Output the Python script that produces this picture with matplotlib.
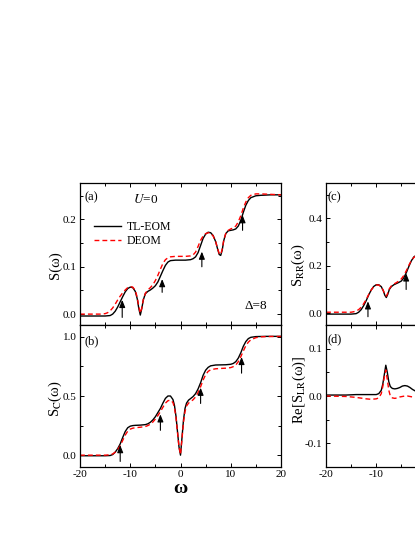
import matplotlib
matplotlib.use("Agg")
import matplotlib.pyplot as plt
from matplotlib.ticker import MultipleLocator, FormatStrFormatter

plt.rcParams['font.family'] = ['Liberation Serif', 'DejaVu Serif']
plt.rcParams['mathtext.fontset'] = 'stix'
plt.rcParams['axes.unicode_minus'] = False

# ---------------- data ----------------
# panel (a): S(omega)
a_w_tl = [-20, -15, -14, -13.5, -13, -12.5, -12, -11.5, -11, -10.5, -10, -9.5, -9, -8.6, -8.3, -8.0,
          -7.7, -7.4, -7.0, -6.5, -6.0, -5.5, -5.0, -4.5, -4.0, -3.5, -3.0, -2.5, -2.0, -1, 0, 1, 2,
          2.5, 3.0, 3.5, 4.0, 4.5, 5.0, 5.5, 6.0, 6.5, 7.0, 7.4, 7.7, 8.0, 8.3, 8.6, 9.0, 9.5, 10,
          10.5, 11, 11.5, 12, 12.5, 13, 13.5, 14, 15, 16, 18, 20]
a_s_tl = [-0.004, -0.004, -0.003, 0.000, 0.006, 0.015, 0.026, 0.037, 0.047, 0.054, 0.057, 0.056, 0.048,
          0.032, 0.012, -0.002, 0.012, 0.030, 0.043, 0.048, 0.051, 0.055, 0.060, 0.068, 0.080, 0.092,
          0.103, 0.110, 0.113, 0.114, 0.114, 0.114, 0.115, 0.117, 0.121, 0.130, 0.145, 0.160, 0.169,
          0.173, 0.172, 0.166, 0.153, 0.137, 0.126, 0.124, 0.135, 0.155, 0.170, 0.176, 0.177, 0.178,
          0.180, 0.186, 0.198, 0.215, 0.230, 0.240, 0.246, 0.250, 0.251, 0.252, 0.252]
a_w_de = [-20, -16, -15, -14.5, -14, -13.5, -13, -12.5, -12, -11.5, -11, -10.5, -10, -9.5, -9, -8.6,
          -8.3, -8.0, -7.7, -7.4, -7.0, -6.5, -6.0, -5.5, -5.0, -4.5, -4.0, -3.5, -3.0, -2.5, -2.0, -1,
          0, 1, 2, 2.5, 3.0, 3.5, 4.0, 4.5, 5.0, 5.5, 6.0, 6.5, 7.0, 7.4, 7.7, 8.0, 8.3, 8.6, 9.0, 9.5,
          10, 10.5, 11, 11.5, 12, 12.5, 13, 13.5, 14, 15, 16, 18, 20]
a_s_de = [0.000, 0.000, 0.001, 0.003, 0.007, 0.013, 0.021, 0.030, 0.038, 0.045, 0.051, 0.056, 0.058,
          0.057, 0.050, 0.035, 0.016, 0.002, 0.013, 0.031, 0.044, 0.051, 0.056, 0.062, 0.071, 0.082,
          0.095, 0.107, 0.115, 0.119, 0.121, 0.122, 0.122, 0.122, 0.123, 0.125, 0.131, 0.143, 0.156,
          0.165, 0.170, 0.172, 0.171, 0.165, 0.153, 0.138, 0.128, 0.126, 0.137, 0.156, 0.170, 0.177,
          0.180, 0.182, 0.186, 0.195, 0.208, 0.224, 0.237, 0.246, 0.251, 0.254, 0.254, 0.253, 0.252]

# panel (b): S_C(omega)
b_w_tl = [-20, -15, -14, -13.5, -13, -12.5, -12, -11.5, -11, -10.5, -10, -9.5, -9, -8, -7, -6.5, -6,
          -5.5, -5, -4.5, -4, -3.5, -3, -2.5, -2.0, -1.5, -1.2, -0.9, -0.6, -0.3, 0, 0.3, 0.6, 0.9,
          1.2, 1.6, 2.0, 2.5, 3.0, 3.5, 4.0, 4.5, 5.0, 5.5, 6.0, 7, 8, 9, 10, 10.5, 11, 11.5, 12,
          12.5, 13, 13.5, 14, 15, 17, 20]
b_s_tl = [-0.005, -0.005, -0.003, 0.005, 0.025, 0.055, 0.095, 0.150, 0.200, 0.232, 0.245, 0.250, 0.252,
          0.254, 0.258, 0.265, 0.278, 0.298, 0.325, 0.360, 0.395, 0.440, 0.480, 0.500, 0.500, 0.470,
          0.420, 0.330, 0.200, 0.070, 0.000, 0.150, 0.300, 0.395, 0.440, 0.465, 0.478, 0.495, 0.520,
          0.560, 0.612, 0.675, 0.718, 0.742, 0.755, 0.762, 0.763, 0.764, 0.768, 0.775, 0.790, 0.820,
          0.865, 0.920, 0.960, 0.985, 0.996, 1.002, 1.004, 1.004]
b_w_de = [-20, -15, -14, -13.5, -13, -12.5, -12, -11.5, -11, -10.5, -10, -9.5, -9, -8, -7, -6.5, -6,
          -5.5, -5, -4.5, -4, -3.5, -3, -2.5, -2.0, -1.5, -1.2, -0.9, -0.6, -0.3, 0, 0.3, 0.6, 0.9,
          1.2, 1.6, 2.0, 2.5, 3.0, 3.5, 4.0, 4.5, 5.0, 5.5, 6.0, 7, 8, 9, 10, 10.5, 11, 11.5, 12,
          12.5, 13, 13.5, 14, 15, 16, 18, 20]
b_s_de = [0.000, 0.000, 0.003, 0.010, 0.025, 0.048, 0.080, 0.125, 0.170, 0.203, 0.220, 0.228, 0.232,
          0.236, 0.242, 0.250, 0.262, 0.280, 0.305, 0.335, 0.368, 0.405, 0.440, 0.460, 0.465, 0.445,
          0.400, 0.320, 0.195, 0.070, 0.005, 0.140, 0.280, 0.370, 0.415, 0.440, 0.452, 0.468, 0.492,
          0.530, 0.578, 0.635, 0.680, 0.708, 0.722, 0.730, 0.733, 0.735, 0.740, 0.748, 0.762, 0.790,
          0.832, 0.880, 0.925, 0.955, 0.975, 0.993, 1.000, 1.003, 1.003]

# panel (c): S_RR(omega)
c_w = [-20, -15, -14.5, -14, -13.5, -13, -12.5, -12, -11.5, -11, -10.5, -10, -9.5, -9.0, -8.6, -8.3,
       -8.0, -7.7, -7.4, -7.0, -6.5, -6.0, -5.5, -5.0, -4.5, -4.0, -3.5, -3.0, -2.5, -2.0, -1.5]
c_s_tl = [-0.004, -0.004, -0.003, -0.002, 0.004, 0.015, 0.032, 0.053, 0.077, 0.098, 0.113, 0.120, 0.120,
          0.112, 0.095, 0.076, 0.066, 0.080, 0.100, 0.112, 0.120, 0.125, 0.130, 0.136, 0.150, 0.172,
          0.198, 0.222, 0.238, 0.245, 0.248]
c_s_de = [0.004, 0.004, 0.006, 0.009, 0.015, 0.025, 0.040, 0.058, 0.079, 0.098, 0.112, 0.119, 0.119,
          0.111, 0.096, 0.080, 0.072, 0.085, 0.103, 0.115, 0.123, 0.129, 0.136, 0.145, 0.160, 0.180,
          0.203, 0.223, 0.236, 0.243, 0.246]

# panel (d): Re[S_LR(omega)]
d_w = [-20, -16, -14, -12, -11, -10, -9.5, -9.0, -8.7, -8.4, -8.1, -7.8, -7.5, -7.2, -6.8, -6.3, -5.8,
       -5.3, -4.8, -4.3, -3.8, -3.3, -2.8, -2.3, -1.5]
d_s_tl = [0.002, 0.002, 0.003, 0.003, 0.003, 0.003, 0.005, 0.012, 0.025, 0.045, 0.065, 0.050, 0.030,
          0.020, 0.016, 0.015, 0.016, 0.018, 0.021, 0.022, 0.021, 0.018, 0.014, 0.011, 0.008]
d_s_de = [0.000, -0.001, -0.003, -0.006, -0.007, -0.006, -0.004, 0.005, 0.020, 0.040, 0.055, 0.035,
          0.012, 0.000, -0.004, -0.005, -0.004, -0.002, -0.001, 0.000, 0.000, -0.001, -0.002, -0.003,
          -0.004]

# x tick labels
x_ticks = [-20, -10, 0, 10, 20]
x_labels_left = ['-20', '-10', '0', '10', '20']
x_labels_right = ['-20', '-10', '', '', '']   # right column is cropped by the picture edge

# arrows (omega position, tail, head)
a_arrow_w = [-11.6, -3.65, 4.25, 12.35]
a_arrow_tail = [-0.007, 0.046, 0.100, 0.177]
a_arrow_head = [0.030, 0.074, 0.132, 0.209]
b_arrow_w = [-12.0, -4.0, 4.0, 12.15]
b_arrow_tail = [-0.053, 0.21, 0.437, 0.693]
b_arrow_head = [0.085, 0.345, 0.57, 0.83]
c_arrow_w = [-11.65, -4.05]
c_arrow_tail = [-0.015, 0.100]
c_arrow_head = [0.050, 0.168]

# ---------------- figure ----------------
fig = plt.figure(figsize=(4.15, 5.37), dpi=100)
W, H = 415.0, 537.0
aw, ah = 201 / W, 142 / H
ax_a = fig.add_axes([80 / W, (H - 325) / H, aw, ah])
ax_b = fig.add_axes([80 / W, (H - 467) / H, aw, ah])
ax_c = fig.add_axes([326 / W, (H - 325) / H, aw, ah])
ax_d = fig.add_axes([326 / W, (H - 467) / H, aw, ah])

lw_tl = 1.0
lw_de = 1.0
dash = (0, (3.5, 2.2))


def style(ax, yticks, ymaj, ylim, xlabels):
    ax.set_xlim(-20, 20)
    ax.set_ylim(*ylim)
    ax.set_xticks(x_ticks)
    if xlabels is None:
        ax.tick_params(labelbottom=False)
    else:
        ax.set_xticklabels(xlabels)
    ax.xaxis.set_minor_locator(MultipleLocator(5))
    ax.set_yticks(yticks)
    ax.yaxis.set_minor_locator(MultipleLocator(ymaj / 2))
    ax.yaxis.set_major_formatter(FormatStrFormatter('%.1f'))
    ax.tick_params(which='both', direction='in', top=True, right=True, labelsize=8, pad=2.5,
                   width=0.7)
    ax.tick_params(which='major', length=2.8)
    ax.tick_params(which='minor', length=2.0)
    for s in ax.spines.values():
        s.set_linewidth(0.9)


def arrows(ax, ws, tails, heads):
    for w, t, h in zip(ws, tails, heads):
        ax.annotate('', xy=(w, h), xytext=(w, t),
                    arrowprops=dict(arrowstyle='-|>,head_length=0.55,head_width=0.22',
                                    color='k', lw=0.8, shrinkA=0, shrinkB=0, mutation_scale=8))


# (a)
ax_a.plot(a_w_tl, a_s_tl, color='black', lw=lw_tl, label='TL-EOM')
ax_a.plot(a_w_de, a_s_de, color='red', lw=lw_de, ls=dash, label='DEOM')
style(ax_a, [0.0, 0.1, 0.2], 0.1, (-0.023, 0.277), None)
arrows(ax_a, a_arrow_w, a_arrow_tail, a_arrow_head)
ax_a.legend(loc='upper left', bbox_to_anchor=(0.07, 0.729), frameon=False, fontsize=8.5,
            borderpad=0, borderaxespad=0, handlelength=2.26, handletextpad=0.5,
            labelspacing=0.15)
ax_a.text(0.02, 0.878, '(a)', transform=ax_a.transAxes, fontsize=9, va='baseline', ha='left')
ax_a.text(0.262, 0.859, '$U$=0', transform=ax_a.transAxes, fontsize=9.5, va='baseline', ha='left')
ax_a.text(0.819, 0.111, 'Δ=8', transform=ax_a.transAxes, fontsize=9.5, va='baseline', ha='left')
ax_a.text(-0.124, 0.419, 'S(ω)', transform=ax_a.transAxes, fontsize=10.5, rotation=90,
          ha='center', va='center')

# (b)
ax_b.plot(b_w_tl, b_s_tl, color='black', lw=lw_tl)
ax_b.plot(b_w_de, b_s_de, color='red', lw=lw_de, ls=dash)
style(ax_b, [0.0, 0.5, 1.0], 0.5, (-0.1, 1.1), x_labels_left)
arrows(ax_b, b_arrow_w, b_arrow_tail, b_arrow_head)
ax_b.text(0.02, 0.866, '(b)', transform=ax_b.transAxes, fontsize=9, va='baseline', ha='left')
ax_b.text(-0.124, 0.484, 'S$_{\\rm C}$(ω)', transform=ax_b.transAxes, fontsize=10.5, rotation=90,
          ha='center', va='center')
ax_b.text(0.5, -0.181, 'ω', transform=ax_b.transAxes, fontsize=14, fontweight='bold',
          ha='center', va='baseline')

# (c)
ax_c.plot(c_w, c_s_tl, color='black', lw=lw_tl)
ax_c.plot(c_w, c_s_de, color='red', lw=lw_de, ls=dash)
style(ax_c, [0.0, 0.2, 0.4], 0.2, (-0.05, 0.55), None)
arrows(ax_c, c_arrow_w, c_arrow_tail, c_arrow_head)
ax_c.text(0.007, 0.88, '(c)', transform=ax_c.transAxes, fontsize=9, va='baseline', ha='left')
ax_c.text(-0.138, 0.419, 'S$_{\\rm RR}$(ω)', transform=ax_c.transAxes, fontsize=10.5, rotation=90,
          ha='center', va='center')

# (d)
ax_d.plot(d_w, d_s_tl, color='black', lw=lw_tl)
ax_d.plot(d_w, d_s_de, color='red', lw=lw_de, ls=dash)
style(ax_d, [-0.1, 0.0, 0.1], 0.1, (-0.15, 0.15), x_labels_right)
ax_d.text(0.007, 0.877, '(d)', transform=ax_d.transAxes, fontsize=9, va='baseline', ha='left')
ax_d.text(-0.134, 0.542, 'Re[S$_{\\rm LR}$(ω)]', transform=ax_d.transAxes, fontsize=10.5,
          rotation=90, ha='center', va='center')

fig.savefig('out.png', dpi=100)
